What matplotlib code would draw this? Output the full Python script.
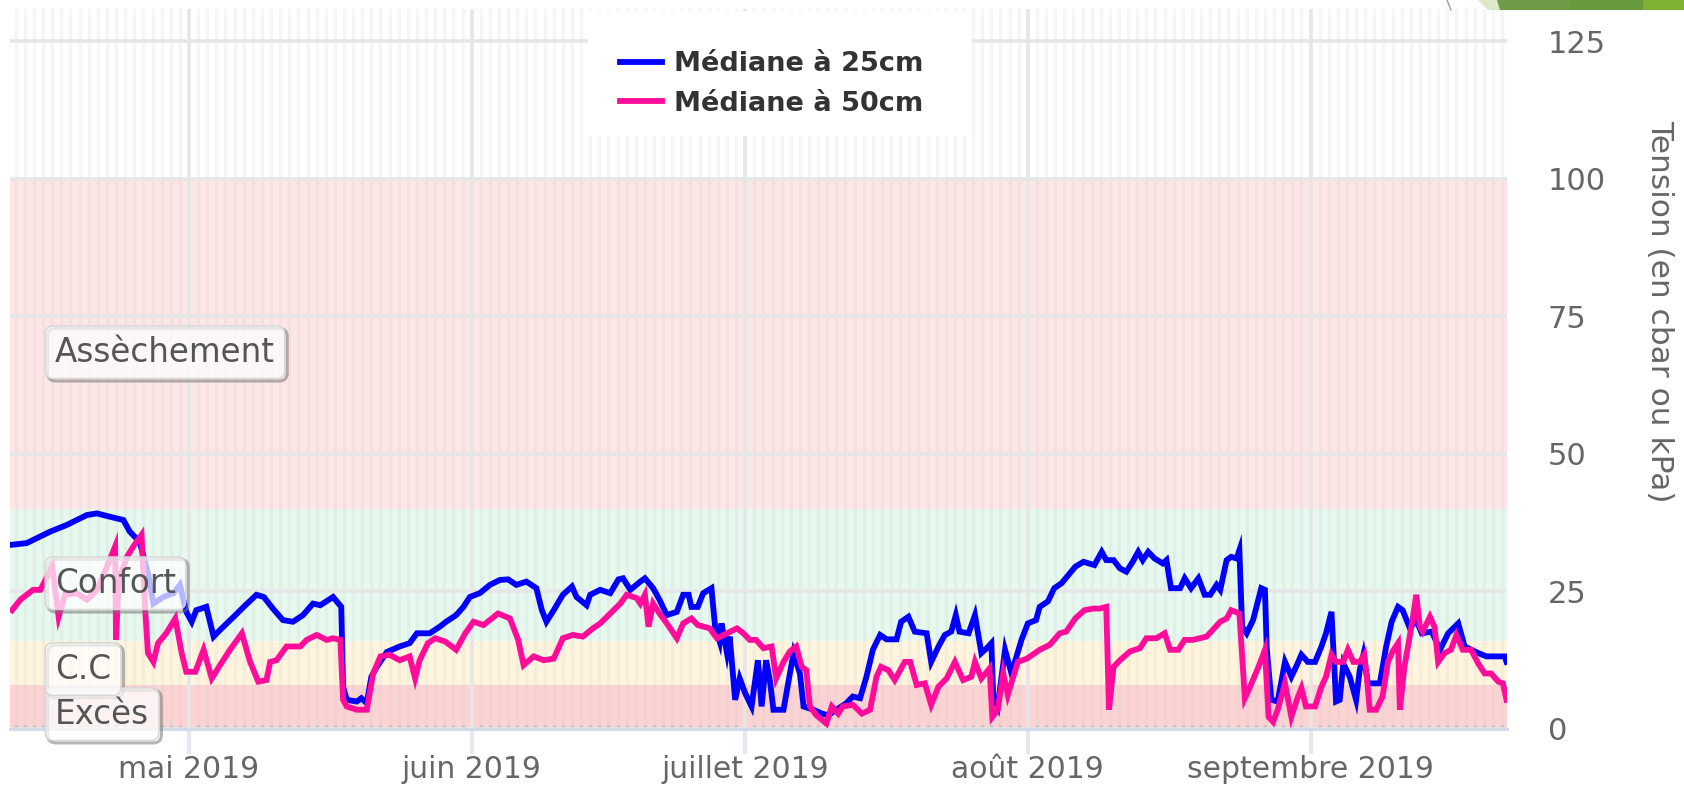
import numpy as np
import pandas as pd
import matplotlib
matplotlib.use("Agg")
import matplotlib.pyplot as plt
import matplotlib.dates as mdates
from matplotlib.lines import Line2D
from matplotlib.patches import Polygon, Rectangle
from matplotlib.transforms import offset_copy

# jours comptés depuis le 2019-04-01 00:00
day_25 = [10.6, 12.2, 14.8, 16.6, 18.8, 19.9, 21.3, 22.8, 23.5, 24.6, 25.5, 26.1, 27.2, 28.3, 29.0,
          29.7, 30.3, 30.8, 31.9, 32.7, 33.4, 34.9, 36.0, 37.4, 38.2, 39.2, 40.3, 41.4, 42.5, 43.6,
          44.4, 45.8, 46.7, 46.9, 47.3, 48.4, 48.9, 49.5, 50.0, 50.6, 51.7, 53.1, 54.2, 55.0, 56.4,
          57.5, 58.2, 59.3, 60.1, 60.8, 61.9, 63.0, 64.1, 65.0, 65.9, 67.0, 68.1, 68.7, 69.2, 70.0,
          71.0, 72.0, 72.5, 73.6, 74.0, 75.1, 76.2, 77.1, 77.6, 78.4, 79.5, 80.0, 80.9, 81.6, 82.4,
          83.5, 84.2, 84.8, 85.1, 85.8, 86.4, 87.3, 87.7, 88.2, 88.4, 89.0, 89.3, 89.9, 90.4, 91.0,
          91.7, 92.4, 92.8, 93.3, 93.7, 94.1, 95.2, 96.3, 97.0, 97.4, 98.5, 99.4, 100.1, 101.0, 102.1,
          102.8, 103.6, 104.3, 105.0, 105.8, 106.5, 107.6, 108.1, 108.9, 109.6, 110.9, 111.4, 112.2,
          112.9, 113.6, 114.1, 114.5, 115.5, 116.2, 116.9, 117.5, 118.0, 118.2, 118.7, 119.5, 120.2,
          121.3, 122.0, 122.9, 123.3, 124.2, 124.9, 125.7, 126.6, 127.2, 128.1, 129.3, 130.1, 130.6,
          131.4, 132.1, 132.8, 133.5, 134.1, 134.6, 135.2, 135.9, 136.8, 137.2, 137.7, 138.7, 139.2,
          139.9, 140.7, 141.4, 142.0, 142.7, 143.1, 143.8, 144.3, 144.9, 145.2, 145.5, 146.0, 146.7,
          147.6, 148.0, 148.2, 148.7, 149.4, 150.2, 150.9, 151.5, 152.0, 152.7, 153.5, 154.2, 154.7,
          155.3, 155.8, 156.2, 156.6, 157.3, 158.0, 158.4, 158.8, 159.3, 160.6, 161.3, 161.9, 162.6,
          163.1, 163.9, 164.6, 165.2, 166.3, 167.2, 168.1, 169.2, 169.9, 171.4, 172.3, 174.3, 174.5]
val_25 = [33.5, 33.8, 35.9, 37.1, 38.9, 39.2, 38.6, 38.0, 35.9, 34.0, 28.3, 22.8, 24.0, 24.7, 26.2,
          21.3, 19.5, 21.6, 22.2, 16.8, 18.0, 20.4, 22.2, 24.4, 24.0, 21.9, 19.8, 19.5, 20.7, 22.8,
          22.5, 24.0, 22.2, 7.7, 5.3, 5.0, 5.6, 4.7, 9.5, 11.3, 14.0, 15.0, 15.6, 17.4, 17.4,
          18.6, 19.5, 20.7, 22.2, 24.0, 24.7, 26.2, 27.1, 27.2, 26.2, 26.8, 25.6, 21.6, 19.5, 21.6,
          24.4, 25.9, 24.0, 22.5, 24.4, 25.3, 24.7, 27.2, 27.4, 25.3, 26.8, 27.4, 25.6, 23.5, 20.7,
          21.3, 24.4, 24.4, 22.2, 22.2, 24.7, 25.6, 18.6, 15.9, 19.2, 13.8, 16.8, 5.3, 9.2, 6.5,
          4.1, 12.5, 4.1, 12.5, 8.9, 3.5, 3.5, 13.8, 10.1, 4.1, 3.5, 2.8, 2.5, 3.5, 4.7,
          5.9, 5.6, 9.5, 14.4, 17.1, 16.3, 16.3, 19.5, 20.4, 17.7, 17.4, 12.2, 15.0,
          17.1, 17.7, 20.7, 17.7, 17.4, 20.7, 13.8, 14.7, 15.6, 5.9, 4.1, 14.4, 10.1,
          16.2, 19.2, 19.8, 22.2, 23.2, 25.6, 26.5, 28.3, 29.5, 30.4, 29.8, 32.2, 30.7,
          30.7, 29.2, 28.6, 30.4, 32.2, 30.7, 32.2, 31.0, 30.1, 30.7, 25.6, 25.6, 27.4,
          25.6, 27.4, 24.4, 24.4, 26.2, 25.3, 30.7, 31.3, 31.0, 32.5, 18.6, 17.4, 19.8,
          25.6, 25.3, 14.7, 5.3, 5.0, 12.2, 9.5, 11.6, 13.5, 12.2, 12.2, 15.0, 17.4,
          21.3, 5.0, 5.3, 11.9, 9.5, 5.3, 10.7, 13.5, 8.3, 8.3, 15.0, 19.5, 22.2,
          21.6, 18.3, 19.8, 17.4, 17.7, 14.4, 17.4, 19.2, 15.0, 13.8, 13.2, 13.2, 12.2]

day_50 = [10.6, 11.5, 12.9, 13.7, 15.0, 15.7, 16.4, 17.7, 18.8, 19.9, 21.0, 21.9, 22.0, 22.3, 23.2,
          23.9, 24.8, 25.2, 25.5, 26.1, 26.6, 27.5, 28.5, 29.2, 29.7, 30.7, 31.6, 32.5, 33.4, 34.5,
          35.8, 36.7, 37.6, 38.5, 38.9, 39.6, 40.7, 42.2, 42.9, 44.0, 45.1, 45.8, 46.6, 46.9, 47.3,
          48.4, 49.5, 50.2, 51.0, 52.0, 53.1, 54.2, 54.8, 55.3, 56.2, 57.0, 58.1, 59.3, 60.3, 61.2,
          62.3, 63.9, 65.2, 66.1, 66.7, 67.8, 68.9, 70.0, 71.0, 72.1, 73.2, 74.3, 75.1, 76.2, 77.3,
          78.0, 79.1, 79.5, 80.0, 80.4, 80.9, 81.6, 82.4, 83.5, 84.2, 85.1, 85.8, 87.1, 87.9, 89.0,
          90.1, 90.8, 91.5, 92.2, 93.0, 93.9, 94.4, 95.2, 95.9, 96.6, 97.2, 97.7, 98.1, 98.8, 99.9,
          100.5, 101.2, 101.7, 102.8, 103.8, 104.7, 105.4, 105.9, 106.7, 107.4, 108.5, 109.1, 109.8,
          110.7, 111.4, 112.2, 113.1, 114.0, 114.9, 115.8, 116.2, 116.9, 117.8, 118.1, 118.7, 119.3,
          119.8, 120.9, 121.9, 123.3, 124.4, 125.5, 126.2, 127.2, 128.2, 129.2, 129.9, 130.6, 130.9,
          131.4, 132.1, 133.2, 134.3, 135.0, 136.1, 137.0, 137.6, 138.5, 139.2, 140.1, 141.6, 142.1,
          143.1, 143.8, 144.3, 145.2, 145.8, 146.3, 147.3, 148.0, 148.4, 148.9, 149.4, 150.2, 150.9,
          151.5, 152.0, 152.5, 153.5, 154.2, 154.7, 155.3, 155.8, 156.6, 157.1, 157.7, 158.4, 158.9,
          159.1, 159.5, 160.2, 160.9, 161.5, 162.0, 162.6, 162.8, 163.3, 164.1, 164.6, 165.0, 165.3,
          166.1, 166.6, 167.0, 167.7, 168.4, 169.0, 169.7, 170.6, 171.4, 172.1, 172.8, 173.6, 174.1,
          174.5]
val_50 = [21.6, 23.5, 25.3, 25.3, 29.5, 20.4, 24.4, 24.7, 23.5, 25.3, 29.5, 33.2, 16.2, 27.1, 31.3,
          33.2, 35.3, 21.6, 13.8, 12.2, 15.6, 17.4, 20.1, 13.8, 10.4, 10.4, 14.4, 9.2, 11.6, 14.4,
          17.4, 12.2, 8.6, 8.9, 12.2, 12.5, 15.0, 15.0, 16.2, 17.1, 16.2, 16.5, 16.2, 5.3, 4.1,
          3.5, 3.5, 10.1, 13.2, 13.5, 12.5, 13.2, 9.2, 12.5, 15.6, 16.5, 15.9, 14.4, 17.4, 19.5,
          18.9, 21.0, 20.1, 16.2, 11.6, 13.2, 12.5, 12.8, 16.5, 17.1, 16.8, 18.3, 19.2, 21.0, 22.8,
          24.4, 23.8, 22.8, 24.4, 18.6, 22.8, 21.0, 19.2, 16.5, 19.2, 20.1, 18.9, 18.3, 16.5, 17.4,
          18.3, 17.4, 16.2, 16.2, 14.7, 15.0, 9.2, 12.2, 14.1, 15.0, 11.3, 10.7, 4.1, 2.5, 1.0,
          4.1, 2.8, 4.1, 4.4, 2.8, 3.5, 9.5, 11.3, 10.7, 8.9, 12.2, 12.2, 8.0,
          8.3, 4.4, 7.7, 9.2, 12.2, 8.9, 9.5, 12.2, 9.2, 11.0, 2.2, 3.5, 10.1,
          6.2, 12.2, 12.8, 14.4, 15.3, 17.4, 17.7, 20.1, 21.6, 21.9, 21.9, 22.2, 3.5,
          11.3, 12.5, 14.1, 14.7, 16.5, 16.5, 17.4, 14.4, 14.4, 16.2, 16.2, 16.8, 17.7,
          19.5, 20.1, 21.6, 21.0, 5.6, 7.4, 11.3, 14.4, 2.2, 1.3, 3.5, 8.3, 2.2,
          5.3, 7.4, 4.1, 4.1, 7.7, 9.5, 13.5, 12.2, 12.2, 14.4, 12.2, 12.2, 13.5,
          10.7, 3.5, 3.5, 5.9, 12.2, 14.1, 15.6, 3.5, 11.3, 18.9, 24.4, 18.6, 17.7,
          20.4, 18.6, 12.2, 13.8, 14.4, 17.1, 14.4, 14.4, 11.9, 10.1, 10.1, 8.6, 8.3,
          5.3]

zone_names = ["Excès", "C.C", "Confort", "Assèchement"]
zone_limits = [0, 8, 16, 40, 100]
zone_colors = ["#fcd3d3", "#fff5de", "#e6f9ee", "#fde6e6"]
zone_label_y = [2.7, 10.9, 26.5, 68.5]
zone_label_day = 15.3

mois = ["janvier", "février", "mars", "avril", "mai", "juin", "juillet",
        "août", "septembre", "octobre", "novembre", "décembre"]
y_ticks = [0, 25, 50, 75, 100, 125]
series_names = ["Médiane à 25cm", "Médiane à 50cm"]
series_colors = ["#0000ff", "#ff0d9a"]

W, H = 1684, 797
t0 = pd.Timestamp("2019-04-01")
x25 = (t0 + pd.to_timedelta(day_25, unit="D")).to_numpy()
x50 = (t0 + pd.to_timedelta(day_50, unit="D")).to_numpy()
t0num = mdates.date2num(t0)

plt.rcParams["font.family"] = ["DejaVu Sans"]
fig = plt.figure(figsize=(W / 100, H / 100), dpi=100)
ax = fig.add_axes([10 / W, 1 - 729 / H, (1507 - 10) / W, (729 - 9) / H])

# zones de tension
for lo, hi, col in zip(zone_limits[:-1], zone_limits[1:], zone_colors):
    ax.axhspan(lo, hi, color=col, zorder=0.1, lw=0)

ax.plot(x25, val_25, color=series_colors[0], lw=4.2, zorder=3, solid_joinstyle="miter")
ax.plot(x50, val_50, color=series_colors[1], lw=4.2, zorder=3.1, solid_joinstyle="miter")

ax.set_xlim(t0num + 10.37, t0num + 174.55)
ax.set_ylim(0, 130.9)

ax.xaxis.set_major_locator(mdates.MonthLocator())
ax.xaxis.set_minor_locator(mdates.DayLocator())
ax.xaxis.set_major_formatter(plt.FuncFormatter(
    lambda v, pos: f"{mois[mdates.num2date(v).month - 1]} {mdates.num2date(v).year}"))
ax.set_yticks(y_ticks)
ax.yaxis.tick_right()

ax.set_axisbelow(True)
ax.grid(True, which="major", color="#e6e6e6", lw=2.6)
ax.grid(True, which="minor", axis="x", color="#c8c8c8", alpha=0.17, lw=2.4)

for s in ["top", "left", "right"]:
    ax.spines[s].set_visible(False)
ax.spines["bottom"].set_color("#d3d9e6")
ax.spines["bottom"].set_linewidth(2.2)

ax.tick_params(axis="x", which="major", length=18, width=3, color="#e3e8f2",
               labelsize=21.5, labelcolor="#666666", pad=1)
ax.tick_params(axis="x", which="minor", length=3, width=2.5, color="#b9c0cf", direction="in")
ax.tick_params(axis="y", length=0, pad=29.5, labelsize=22, labelcolor="#666666")

# étiquettes des zones
for name, yv in zip(zone_names, zone_label_y):
    ax.text(t0num + zone_label_day, yv, name, fontsize=23.5, color="none",
            va="center", ha="left", zorder=5,
            transform=offset_copy(ax.transData, fig=fig, x=2.5, y=-2.5, units="dots"),
            bbox=dict(boxstyle="round,pad=0.3,rounding_size=0.25", fc="none",
                      ec="#777777", lw=2.2, alpha=0.55))
    ax.text(t0num + zone_label_day, yv, name, fontsize=23.5, color="#555555",
            va="center", ha="left", zorder=6,
            bbox=dict(boxstyle="round,pad=0.3,rounding_size=0.25", fc=(1, 1, 1, 0.72),
                      ec="#d5d5d5", lw=1))

# légende
fig.patches.append(Rectangle((588 / W, 1 - 136 / H), 384 / W, 125 / H,
                             transform=fig.transFigure, fc="white", ec="none", zorder=4))
handles = [Line2D([], [], color=c, lw=4.2) for c in series_colors]
leg = fig.legend(handles, series_names, loc="center",
                 bbox_to_anchor=(772 / W, 1 - 84 / H), bbox_transform=fig.transFigure,
                 frameon=False, prop={"weight": "bold", "size": 19.5},
                 handlelength=1.55, handletextpad=0.45, labelspacing=0.5, borderpad=0)
leg.set_zorder(5)
for t in leg.get_texts():
    t.set_color("#333333")

fig.text(1660 / W, 1 - 311 / H, "Tension (en cbar ou kPa)", rotation=270,
         ha="center", va="center", fontsize=22.5, color="#666666")

# décor de la diapositive en haut à droite
def px(pts):
    return [(x / W, 1 - y / H) for x, y in pts]

fig.lines.append(Line2D([1447 / W, 1451 / W], [1, 1 - 10 / H], transform=fig.transFigure,
                        color="#9a9a9a", lw=1))
for pts, col in [([(1478, 0), (1500, 0), (1500, 10), (1488, 10)], "#dce8c6"),
                 ([(1497, 0), (1572, 0), (1572, 10), (1500, 10)], "#6f9a48"),
                 ([(1570, 0), (1645, 0), (1645, 10), (1570, 10)], "#679a3c"),
                 ([(1643, 0), (1684, 0), (1684, 10), (1643, 10)], "#80b032")]:
    fig.patches.append(Polygon(px(pts), closed=True, transform=fig.transFigure,
                               fc=col, ec="none", zorder=4))

fig.savefig("out.png", dpi=100)
